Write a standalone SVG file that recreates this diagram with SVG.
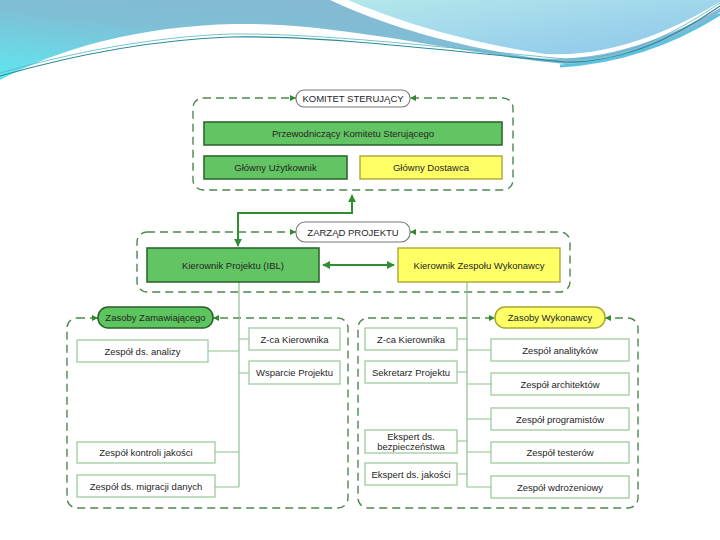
<svg xmlns="http://www.w3.org/2000/svg" width="720" height="540" viewBox="0 0 720 540">
<style>
text{font-family:"Liberation Sans",Arial,sans-serif;font-size:9.5px;fill:#262626;text-anchor:middle;dominant-baseline:central}
.dash{fill:none;stroke:#4f874f;stroke-width:1.4;stroke-dasharray:8 5}
.g{fill:#62c462;stroke:#2f6a2f;stroke-width:1.6}
.y{fill:#ffff66;stroke:#aaa838;stroke-width:1.4}
.w{fill:#fff;stroke:#9fcb9f;stroke-width:1.3}
.pill{fill:#fff;stroke:#777;stroke-width:1.1}
.ln{fill:none;stroke:#8cc28c;stroke-width:1.2}
.main{fill:none;stroke:#2f8f2f;stroke-width:2}
.ah{fill:#2f8a2f}
</style>
<defs>
<linearGradient id="sky" x1="1" y1="0" x2="0" y2="1">
<stop offset="0" stop-color="#8ab3cf"/>
<stop offset="0.55" stop-color="#7fbfd6"/>
<stop offset="1" stop-color="#5ee8f0"/>
</linearGradient>
<linearGradient id="blob" x1="0" y1="0" x2="1" y2="1">
<stop offset="0" stop-color="#b4e8ec"/>
<stop offset="1" stop-color="#8cc5ea"/>
</linearGradient>
<marker id="arr" viewBox="0 0 10 10" refX="9" refY="5" markerWidth="4" markerHeight="4" orient="auto-start-reverse">
<path d="M0,0 L10,5 L0,10 Z" fill="#2f8f2f"/>
</marker>
</defs>
<rect width="720" height="540" fill="#fff"/>
<g id="header">
<path d="M0,0 H720 V12 C680,40 630,62 565,64 C460,54 340,22 235,24 C140,26 60,48 0,80 Z" fill="url(#sky)"/>
<path d="M330,0 C385,26 455,46 535,58 C610,64 680,32 720,8 V0 Z" fill="#fff"/>
<path d="M348,0 C400,22 465,42 545,54 C615,58 680,26 720,2 V0 Z" fill="url(#blob)"/>
<path d="M0,76 C70,56 150,40 230,37 C320,35 440,50 565,62 C625,64 680,34 720,6" fill="none" stroke="#2a8a9a" stroke-width="1.1"/>
<path d="M0,73 C70,53 150,37 230,34 C320,33 440,47 565,59 C625,61 680,30 720,3" fill="none" stroke="#58b3c0" stroke-width="0.8"/>
<path d="M560,66 C630,62 685,36 720,14" fill="none" stroke="#5cc2de" stroke-width="3"/>
</g>
<g id="groups">
<rect class="dash" x="193" y="98" width="320" height="92" rx="10"/>
<rect class="dash" x="137" y="232" width="433" height="60" rx="10"/>
<rect class="dash" x="67" y="318" width="281" height="190" rx="10"/>
<rect class="dash" x="358" y="318" width="280" height="190" rx="10"/>
</g>
<g id="connectors">
<path class="main" d="M238,246 V213 H352 V195" marker-start="url(#arr)" marker-end="url(#arr)"/>
<path class="main" d="M323,265 H394" marker-start="url(#arr)" marker-end="url(#arr)"/>
<path class="ln" d="M239,282 V487 M239,339 H249 M208,351 H239 M239,373 H249 M215,452 H239 M215,487 H239"/>
<path class="ln" d="M467,282 V487 M457,339 H467 M457,372 H467 M457,441 H467 M457,474 H467 M467,350 H491 M467,384 H491 M467,419 H491 M467,452 H491 M467,487 H491"/>
<polygon class="ah" points="290,95 296,98 290,101"/>
<polygon class="ah" points="416,95 410,98 416,101"/>
<polygon class="ah" points="290,229 296,232 290,235"/>
<polygon class="ah" points="416,229 410,232 416,235"/>
<polygon class="ah" points="92,315 98,318 92,321"/>
<polygon class="ah" points="219,315 213,318 219,321"/>
<polygon class="ah" points="489,315 495,318 489,321"/>
<polygon class="ah" points="611,315 605,318 611,321"/>
</g>
<g id="komitet"><rect class="pill" x="296" y="90" width="114" height="17" rx="8"/><text x="353" y="98.5">KOMITET STERUJĄCY</text></g>
<g id="przewodniczacy"><rect class="g" x="204" y="122" width="298" height="23"/><text x="353" y="133.5">Przewodniczący Komitetu Sterującego</text></g>
<g id="glowny-uzytkownik"><rect class="g" x="204" y="156" width="143" height="23"/><text x="275.5" y="167.5">Główny Użytkownik</text></g>
<g id="glowny-dostawca"><rect class="y" x="360" y="156" width="142" height="23"/><text x="431" y="167.5">Główny Dostawca</text></g>
<g id="zarzad"><rect class="pill" x="296" y="222" width="114" height="20" rx="9"/><text x="353" y="232">ZARZĄD PROJEKTU</text></g>
<g id="kierownik-projektu"><rect class="g" x="147" y="248" width="172" height="34"/><text x="233" y="265">Kierownik Projektu (IBL)</text></g>
<g id="kierownik-zespolu"><rect class="y" x="398" y="248" width="162" height="34"/><text x="479" y="265">Kierownik Zespołu Wykonawcy</text></g>
<g id="zasoby-zamawiajacego"><rect x="98" y="307" width="115" height="21" rx="10" fill="#5dc55d" stroke="#2b5e2b" stroke-width="1.5"/><text x="155.5" y="317.5">Zasoby Zamawiającego</text></g>
<g id="zasoby-wykonawcy"><rect x="495" y="307" width="110" height="21" rx="10" fill="#ffff66" stroke="#a6a630" stroke-width="1.5"/><text x="550" y="317.5">Zasoby Wykonawcy</text></g>
<g id="zespol-analizy"><rect class="w" x="77" y="340" width="131" height="22"/><text x="142.5" y="351">Zespół ds. analizy</text></g>
<g id="zca-l"><rect class="w" x="249" y="328" width="91" height="22"/><text x="294.5" y="339">Z-ca Kierownika</text></g>
<g id="wsparcie"><rect class="w" x="249" y="361" width="91" height="23"/><text x="294.5" y="372.5">Wsparcie Projektu</text></g>
<g id="kontrola"><rect class="w" x="77" y="442" width="138" height="21"/><text x="146" y="452.5">Zespół kontroli jakości</text></g>
<g id="migracja"><rect class="w" x="77" y="475" width="138" height="22"/><text x="146" y="486">Zespół ds. migracji danych</text></g>
<g id="zca-r"><rect class="w" x="365" y="328" width="92" height="22"/><text x="411" y="339">Z-ca Kierownika</text></g>
<g id="sekretarz"><rect class="w" x="365" y="361" width="92" height="22"/><text x="411" y="372">Sekretarz Projektu</text></g>
<g id="ekspert-bezp"><rect class="w" x="365" y="430" width="92" height="23"/><text x="411" y="436.5">Ekspert ds.</text><text x="411" y="446.5">bezpieczeństwa</text></g>
<g id="ekspert-jak"><rect class="w" x="365" y="463" width="92" height="22"/><text x="411" y="474">Ekspert ds. jakości</text></g>
<g id="analitycy"><rect class="w" x="491" y="339" width="138" height="22"/><text x="560" y="350">Zespół analityków</text></g>
<g id="architekci"><rect class="w" x="491" y="373" width="138" height="22"/><text x="560" y="384">Zespół architektów</text></g>
<g id="programisci"><rect class="w" x="491" y="408" width="138" height="22"/><text x="560" y="419">Zespół programistów</text></g>
<g id="testerzy"><rect class="w" x="491" y="442" width="138" height="21"/><text x="560" y="452.5">Zespół testerów</text></g>
<g id="wdrozeniowy"><rect class="w" x="491" y="476" width="138" height="22"/><text x="560" y="487">Zespół wdrożeniowy</text></g>
</svg>
